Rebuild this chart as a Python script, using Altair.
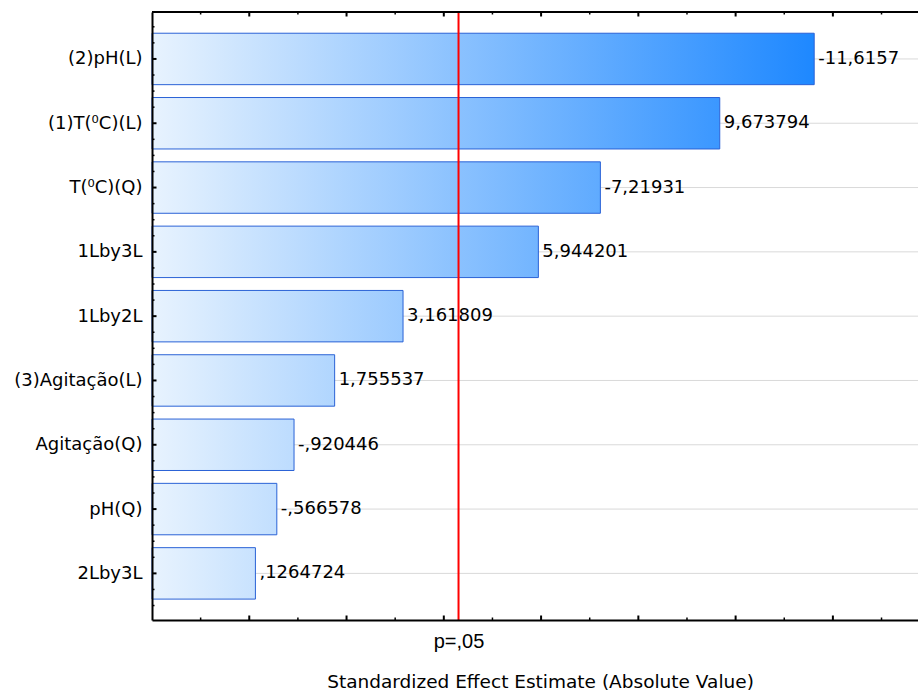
import json
import altair as alt
import pandas as pd

# ---------------- data ----------------
factors = ["(2)pH(L)", "(1)T(⁰C)(L)", "T(⁰C)(Q)", "1Lby3L", "1Lby2L",
           "(3)Agitação(L)", "Agitação(Q)", "pH(Q)", "2Lby3L"]
effects = [-11.6157, 9.673794, -7.21931, 5.944201, 3.161809,
           1.755537, -0.920446, -0.566578, 0.1264724]
effect_labels = ["-11,6157", "9,673794", "-7,21931", "5,944201", "3,161809",
                 "1,755537", "-,920446", "-,566578", ",1264724"]
p_crit = 4.302653
p_label = "p=,05"
x_title = "Standardized Effect Estimate (Absolute Value)"
x_major_ticks = [0, 2, 4, 6, 8, 10, 12]
x_minor_ticks = [-1, 1, 3, 5, 7, 9, 11, 13]

# ---------------- layout ----------------
W, H = 766, 608
X_MIN, X_MAX = -2, 13.75
Y_MIN, Y_MAX = -0.73, 8.725
FONT = "DejaVu Sans"

n = len(factors)
df = pd.DataFrame({"idx": list(range(n)), "factor": factors,
                   "effect": effects, "label": effect_labels})
df["abs_effect"] = df["effect"].abs()
amax = df["abs_effect"].max()

y_major = list(range(n))
y_minor = sorted({i + f for i in range(n) for f in (-0.5, -0.25, 0.25, 0.5, 0.75)
                  if -0.5 <= i + f <= n - 0.5})

xscale = alt.Scale(domain=[X_MIN, X_MAX], nice=False, zero=False)
yscale = alt.Scale(domain=[Y_MIN, Y_MAX], nice=False, zero=False, reverse=True)

base = alt.Chart(df)

label_expr = json.dumps(factors, ensure_ascii=False) + "[datum.value]"

# the same axis objects are given to every layer so that they merge cleanly
yaxis = alt.Axis(orient="left", values=y_major, labelExpr=label_expr, ticks=False,
                 grid=False, domain=True, domainColor="black",
                 domainWidth=2, labelFont=FONT, labelFontSize=18,
                 labelColor="black", labelPadding=10, title="",
                 zindex=1)
xaxis = alt.Axis(orient="bottom", values=[p_crit], labelExpr="'" + p_label + "'",
                 ticks=False, grid=False, domain=True, domainColor="black",
                 domainWidth=2, labelFont="Liberation Sans",
                 labelFontSize=20, labelColor="black", labelPadding=11,
                 labelFlush=False,
                 title=x_title, titleFont=FONT, titleFontSize=18.5,
                 titleFontWeight="normal", titleColor="black",
                 titleX=388, titleY=67, titleAlign="center",
                 titleBaseline="alphabetic", zindex=1)

grid = base.mark_rule(color="#d9d9d9", strokeWidth=1).encode(
    y=alt.Y("idx:Q", scale=yscale, axis=yaxis),
    x=alt.value(0), x2=alt.value(W),
)

bars = []
for i in range(n):
    av = abs(effects[i])
    grad = alt.LinearGradient(
        gradient="linear",
        stops=[alt.GradientStop(color="#e8f3fe", offset=0),
               alt.GradientStop(color="#1e88ff", offset=1)],
        x1=0, x2=(amax - X_MIN) / (av - X_MIN), y1=0, y2=0)
    b = base.transform_filter(alt.datum.idx == i).transform_calculate(
        lo="datum.idx - 0.4", hi="datum.idx + 0.4"
    ).mark_rect(fill=grad, stroke="#2a62d6", strokeWidth=1).encode(
        x=alt.X("abs_effect:Q", scale=xscale, axis=xaxis),
        x2=alt.X2(datum=X_MIN),
        y=alt.Y("lo:Q", scale=yscale, axis=yaxis),
        y2="hi:Q",
    )
    bars.append(b)

red = alt.Chart(pd.DataFrame({"p": [p_crit]})).mark_rule(
    color="#ff0000", strokeWidth=2).encode(
    x=alt.X("p:Q", scale=xscale, axis=xaxis))

text = base.mark_text(align="left", baseline="middle", dx=4, font=FONT,
                      fontSize=18, color="black").encode(
    x=alt.X("abs_effect:Q", scale=xscale, axis=xaxis),
    y=alt.Y("idx:Q", scale=yscale, axis=yaxis),
    text="label:N",
)

xmaj = alt.Chart(pd.DataFrame({"v": x_major_ticks}))
xmin = alt.Chart(pd.DataFrame({"v": x_minor_ticks}))
ymaj = alt.Chart(pd.DataFrame({"v": y_major}))
ymin = alt.Chart(pd.DataFrame({"v": y_minor}))

tick_layers = [
    xmaj.mark_rule(color="black", strokeWidth=2).encode(
        x=alt.X("v:Q", scale=xscale, axis=xaxis), y=alt.value(H), y2=alt.value(H - 4.5)),
    xmaj.mark_rule(color="black", strokeWidth=2).encode(
        x=alt.X("v:Q", scale=xscale, axis=xaxis), y=alt.value(0), y2=alt.value(4.5)),
    xmin.mark_rule(color="black", strokeWidth=1.5).encode(
        x=alt.X("v:Q", scale=xscale, axis=xaxis), y=alt.value(H), y2=alt.value(H - 2.5)),
    xmin.mark_rule(color="black", strokeWidth=1.5).encode(
        x=alt.X("v:Q", scale=xscale, axis=xaxis), y=alt.value(0), y2=alt.value(2.5)),
    ymaj.mark_rule(color="black", strokeWidth=2).encode(
        y=alt.Y("v:Q", scale=yscale, axis=yaxis), x=alt.value(0), x2=alt.value(4.5)),
    ymin.mark_rule(color="black", strokeWidth=1.5).encode(
        y=alt.Y("v:Q", scale=yscale, axis=yaxis), x=alt.value(0), x2=alt.value(2.5)),
]

top = alt.Chart(pd.DataFrame({"a": [0]})).mark_rule(
    color="black", strokeWidth=2).encode(
    y=alt.value(0), x=alt.value(0), x2=alt.value(W))

chart = alt.layer(grid, *bars, red, text, *tick_layers, top).properties(
    width=W, height=H,
    padding={"left": 152, "top": 12, "right": 0, "bottom": 71},
    autosize=alt.AutoSizeParams(type="none"),
    background="white",
).configure_view(stroke=None)

chart.save("out.html", embed_options={"renderer": "svg", "actions": False})
